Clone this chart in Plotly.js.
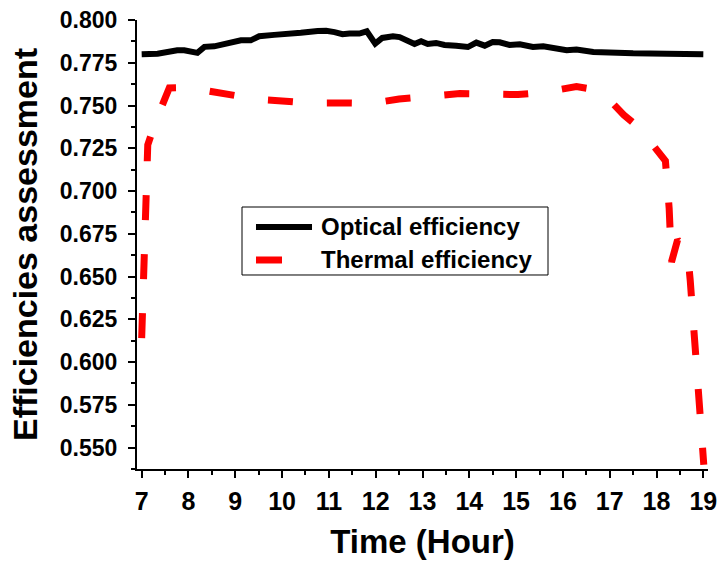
<!DOCTYPE html>
<html>
<head>
<meta charset="utf-8">
<script src="https://cdn.plot.ly/plotly-3.0.1.min.js"></script>
<style>
  html, body { margin: 0; padding: 0; background: #fff; }
  #chart { width: 717px; height: 566px; }
</style>
</head>
<body>
<div id="chart"></div>
<script>
// Optical efficiency over the day
const opticalHours = [7.0, 7.34, 7.76, 7.91, 8.19, 8.34, 8.55, 8.87, 8.98, 9.12, 9.33, 9.51, 9.83,
  10.19, 10.40, 10.76, 10.94, 11.12, 11.29, 11.44, 11.65, 11.81, 11.99, 12.14, 12.37, 12.51,
  12.83, 12.97, 13.11, 13.29, 13.47, 13.72, 13.97, 14.15, 14.33, 14.50, 14.65, 14.86, 15.08,
  15.36, 15.58, 16.08, 16.29, 16.65, 17.0, 17.5, 18.22, 19.0];
const opticalEff = [0.7800, 0.7803, 0.7823, 0.7823, 0.7808, 0.7843, 0.7846, 0.7870, 0.7870, 0.7881,
  0.7881, 0.7905, 0.7913, 0.7917, 0.7925, 0.7936, 0.7937, 0.7929, 0.7917, 0.7921, 0.7921, 0.7934,
  0.7862, 0.7895, 0.7905, 0.7900, 0.7860, 0.7876, 0.7860, 0.7866, 0.7854, 0.7850, 0.7842, 0.7868,
  0.7850, 0.7871, 0.7870, 0.7854, 0.7858, 0.7842, 0.7846, 0.7823, 0.7827, 0.7813, 0.7807, 0.7805,
  0.7803, 0.7800];

// Thermal efficiency over the day
const thermalHours = [7.00, 7.13, 7.31, 7.59, 8.00, 8.50, 9.00, 9.50, 10.00, 10.60, 11.30, 11.90,
  12.50, 13.04, 13.80, 14.30, 15.04, 15.56, 16.29, 16.80, 17.30, 17.63, 18.00, 18.19, 18.27,
  18.32, 18.45, 18.66, 18.72, 18.81, 18.91, 19.01];
const thermalEff = [0.614, 0.727, 0.7415, 0.7603, 0.7605, 0.7580, 0.7555, 0.7535, 0.7527, 0.7514,
  0.7515, 0.7512, 0.7538, 0.7555, 0.7570, 0.7568, 0.7564, 0.7576, 0.7611, 0.7588, 0.7445, 0.7370,
  0.7235, 0.7177, 0.6900, 0.6585, 0.6715, 0.6650, 0.6479, 0.6109, 0.5741, 0.5400];

const xTicks = [7, 8, 9, 10, 11, 12, 13, 14, 15, 16, 17, 18, 19];
const yTicks = [0.550, 0.575, 0.600, 0.625, 0.650, 0.675, 0.700, 0.725, 0.750, 0.775, 0.800];

const FONT = 'Liberation Sans, Arial, sans-serif';

const series = [
  { name: 'Optical efficiency', x: opticalHours, y: opticalEff, color: '#000000', dash: 'solid', width: 6 },
  { name: 'Thermal efficiency', x: thermalHours, y: thermalEff, color: '#ff0000', dash: '25px,34px', width: 7 }
];

const traces = series.map(s => ({
  type: 'scatter',
  mode: 'lines',
  name: s.name,
  x: s.x,
  y: s.y,
  line: { color: s.color, width: s.width, dash: s.dash },
  showlegend: false,
  hoverinfo: 'x+y'
}));

// Boxed key in paper coordinates
const key = { x0: 0.1839, x1: 0.7198, y0: 0.4321, y1: 0.5835, sx0: 0.2084, textX: 0.3187 };
const keyRows = [
  { y: 0.539, sx1: 0.3065 },
  { y: 0.4655, sx1: 0.2539 }
];

const shapes = [{
  type: 'rect', xref: 'paper', yref: 'paper',
  x0: key.x0, x1: key.x1, y0: key.y0, y1: key.y1,
  line: { color: '#000', width: 1 }, fillcolor: 'rgba(0,0,0,0)'
}];
const annotations = [];
series.forEach((s, i) => {
  shapes.push({
    type: 'line', xref: 'paper', yref: 'paper',
    x0: key.sx0, x1: keyRows[i].sx1, y0: keyRows[i].y, y1: keyRows[i].y,
    line: { color: s.color, width: s.width }
  });
  annotations.push({
    xref: 'paper', yref: 'paper', x: key.textX, y: keyRows[i].y,
    xanchor: 'left', yanchor: 'middle', showarrow: false,
    text: '<b>' + s.name + '</b>',
    font: { family: FONT, size: 24, color: '#000' }
  });
});

const layout = {
  width: 717,
  height: 566,
  margin: { l: 137, r: 9, t: 20, b: 97 },
  paper_bgcolor: '#ffffff',
  plot_bgcolor: '#ffffff',
  showlegend: false,
  xaxis: {
    range: [6.9, 19.1],
    tickvals: xTicks,
    ticktext: xTicks.map(String),
    showgrid: false, zeroline: false,
    showline: true, linecolor: '#000', linewidth: 2,
    ticks: 'outside', ticklen: 7, tickwidth: 2, tickcolor: '#000',
    minor: { ticks: 'outside', ticklen: 4, tickwidth: 2, tickcolor: '#000', dtick: 0.5, tick0: 7 },
    tickfont: { family: FONT, size: 25, color: '#000', weight: 'bold' },
    ticklabelstandoff: 2,
    ticklabeloverflow: 'allow',
    title: { text: 'Time (Hour)', font: { family: FONT, size: 33, color: '#000', weight: 'bold' }, standoff: 16 }
  },
  yaxis: {
    range: [0.5375, 0.800],
    tickvals: yTicks,
    ticktext: yTicks.map(v => v.toFixed(3)),
    showgrid: false, zeroline: false,
    showline: true, linecolor: '#000', linewidth: 2,
    ticks: 'outside', ticklen: 7, tickwidth: 2, tickcolor: '#000',
    minor: { ticks: 'outside', ticklen: 4, tickwidth: 2, tickcolor: '#000', dtick: 0.0125, tick0: 0.5375 },
    tickfont: { family: FONT, size: 23, color: '#000', weight: 'bold' },
    ticklabelstandoff: 6,
    title: { text: 'Efficiencies assessment', font: { family: FONT, size: 34, color: '#000', weight: 'bold' }, standoff: 12 }
  },
  shapes: shapes,
  annotations: annotations
};

Plotly.newPlot('chart', traces, layout, { displayModeBar: false, staticPlot: true });
</script>
</body>
</html>
